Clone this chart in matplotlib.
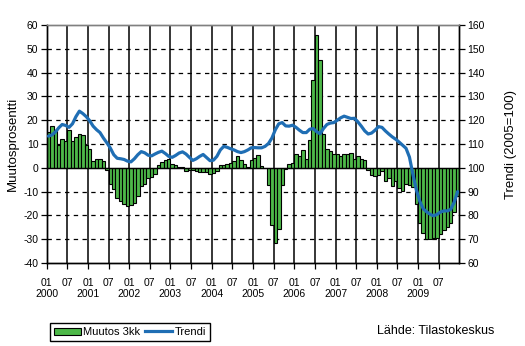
import matplotlib
matplotlib.use("Agg")
import matplotlib.pyplot as plt
from matplotlib.patches import Patch
from matplotlib.lines import Line2D
import matplotlib.transforms as mtransforms

plt.rcParams['font.family'] = ['Liberation Sans', 'DejaVu Sans']

# Monthly data Jan 2000 .. Dec 2009
muutos_3kk = [
    15.1, 17.6, 15.8, 9.7, 11.9, 11.3, 15.7, 11.3, 13.0, 14.4, 13.6, 9.4,      # 2000
    7.7, 2.7, 3.9, 3.9, 2.7, -1.1, -6.6, -8.8, -12.5, -14.1, -15.3, -16.2,     # 2001
    -15.8, -14.6, -12.0, -7.7, -6.6, -4.1, -4.0, -2.6, 1.2, 2.3, 3.2, 3.5,     # 2002
    1.5, 1.0, 0.3, 0.2, -1.4, -1.0, -0.8, -1.5, -1.8, -1.8, -1.8, -2.7,        # 2003
    -2.1, -1.5, 1.0, 1.0, 1.8, 2.2, 2.7, 4.8, 3.1, 1.4, 0.4, 3.1,              # 2004
    4.3, 5.2, 0.6, 0.1, -7.4, -24.2, -31.8, -25.9, -7.4, -0.7, 1.4, 2.2,       # 2005
    5.6, 4.8, 7.3, 3.9, 11.5, 37.1, 56.0, 45.5, 14.4, 7.7, 6.9, 6.0,           # 2006
    5.6, 4.8, 6.0, 6.0, 6.4, 3.9, 4.8, 3.9, 3.1, -0.8, -3.0, -3.4,             # 2007
    -3.2, -1.2, -5.6, -4.2, -7.6, -5.5, -8.6, -9.6, -6.8, -7.2, -8.0, -15.0,   # 2008
    -23.2, -27.5, -30.0, -30.0, -29.7, -29.5, -28.0, -26.0, -25.0, -23.0, -18.5, -12.0,  # 2009
]

trendi = [
    113.3, 113.8, 115.0, 116.8, 118.2, 117.8, 117.0, 118.5, 121.5, 123.8, 122.8, 121.5,
    119.8, 117.5, 116.0, 114.8, 112.5, 110.5, 108.3, 105.5, 104.0, 103.8, 103.5, 102.8,
    102.5, 103.8, 105.5, 106.8, 106.3, 105.3, 105.0, 105.8, 106.5, 107.0, 106.0, 104.8,
    104.4, 105.2, 106.2, 106.7, 105.8, 104.4, 103.1, 103.8, 104.8, 105.6, 104.3, 103.0,
    103.2, 104.8, 107.5, 109.0, 108.6, 108.0, 107.5, 106.8, 106.4, 106.8, 107.5, 108.4,
    108.5, 108.4, 108.4, 109.0, 110.2, 112.5, 116.0, 118.5, 119.0, 117.6, 117.5, 117.9,
    117.0, 115.8, 114.8, 114.8, 116.2, 116.5, 115.2, 114.3, 116.5, 118.2, 118.8, 119.0,
    120.0, 121.0, 121.7, 121.2, 120.7, 120.8, 119.3, 117.5, 115.5, 114.2, 114.6, 115.8,
    117.3, 117.0, 115.5, 114.2, 113.0, 112.0, 110.8, 109.5, 108.2, 104.5, 97.3, 90.8,
    86.0, 82.8, 81.5, 80.5, 79.8, 80.4, 81.4, 81.9, 81.9, 82.5, 85.5, 90.0,
]

month_labels = ["01", "07"] * 10
year_labels = [str(y) for y in range(2000, 2010)]
left_ticks = [-40, -30, -20, -10, 0, 10, 20, 30, 40, 50, 60]
right_ticks = [60, 70, 80, 90, 100, 110, 120, 130, 140, 150, 160]

GREEN = '#4DB848'
BLUE = '#1F6EB4'

fig = plt.figure(figsize=(5.25, 3.46), dpi=100)
ax = fig.add_axes([46.7 / 525, 1 - 263 / 346, (459.3 - 46.7) / 525, (263 - 25) / 346])
ax2 = ax.twinx()

n = len(muutos_3kk)
x = [i + 0.5 for i in range(n)]

# grid
for v in left_ticks[1:-1]:
    if v == 0:
        continue
    ax.axhline(v, color='black', lw=0.9, ls=(0, (3.5, 3.5)), zorder=0)
for t in range(6, n, 6):
    ax.axvline(t, color='black', lw=1.1, zorder=0)

ax.bar(x, muutos_3kk, width=1.0, color=GREEN, edgecolor='black', linewidth=0.8, zorder=2)
ax.axhline(0, color='black', lw=1.0, zorder=3)

ax.set_xlim(0, n)
ax.set_ylim(-40, 60)
ax.set_yticks(left_ticks)
ax.set_yticklabels([str(v) for v in left_ticks])

ax2.plot(x, trendi, color=BLUE, lw=2.3, zorder=5, solid_capstyle='round')
ax2.set_ylim(60, 160)
ax2.set_yticks(right_ticks)
ax2.set_yticklabels([str(v) for v in right_ticks])

ax.set_xticks(list(range(0, n, 6)))
ax.set_xticklabels(month_labels)

for a in (ax, ax2):
    a.tick_params(axis='both', labelsize=7.5, length=4, width=0.9, color='black', direction='out', pad=2)
    for s in ('left', 'right', 'bottom'):
        a.spines[s].set_color('black')
        a.spines[s].set_linewidth(1.0)
    a.spines['top'].set_color('#808080')
    a.spines['top'].set_linewidth(1.0)
ax.tick_params(axis='x', pad=7)

trans = mtransforms.blended_transform_factory(ax.transData, fig.transFigure)
for i, yl in enumerate(year_labels):
    fig.text(i * 12, 1 - 294 / 346, yl, transform=trans, ha='center', va='center', fontsize=7.5)

ax.set_ylabel('Muutosprosentti', fontsize=9.5, labelpad=3)
ax2.set_ylabel('Trendi (2005=100)', fontsize=9.5, rotation=90, labelpad=14)

handles = [Patch(facecolor=GREEN, edgecolor='black', linewidth=0.8),
           Line2D([0], [0], color=BLUE, lw=2.3)]
leg = fig.legend(handles, ['Muutos 3kk', 'Trendi'], loc='lower left',
                 bbox_to_anchor=(50 / 525, 5 / 346), ncol=2, fontsize=8,
                 frameon=True, fancybox=False, edgecolor='black', framealpha=1,
                 handlelength=2.4, handleheight=0.6, handletextpad=0.25,
                 columnspacing=0.4, borderpad=0.35, borderaxespad=0)
leg.get_frame().set_linewidth(1.0)

fig.text(377 / 525, 1 - 331 / 346, 'Lähde: Tilastokeskus', fontsize=9, ha='left', va='center')

fig.savefig('out.png', dpi=100)
